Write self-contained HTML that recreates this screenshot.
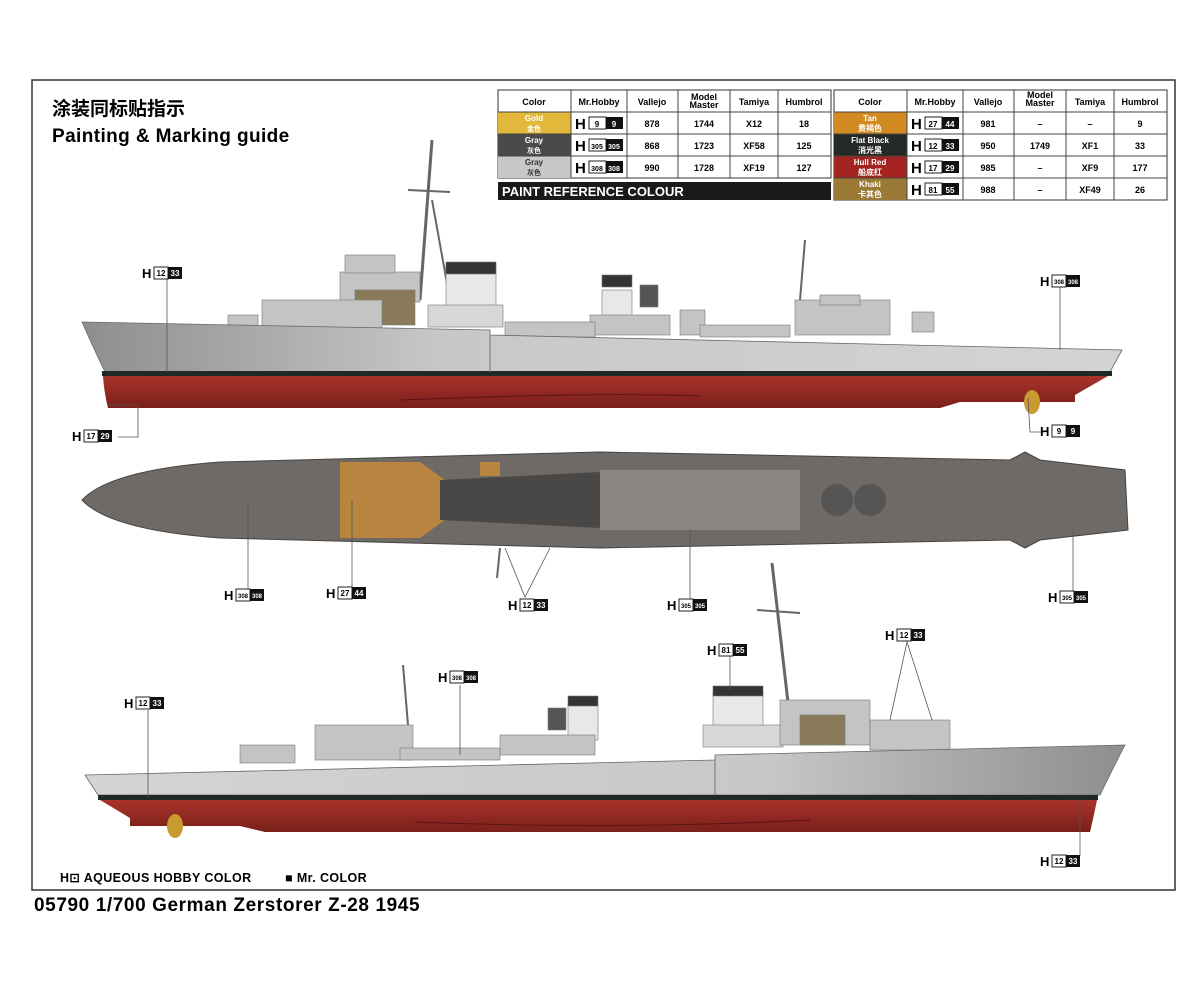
<!DOCTYPE html>
<html><head><meta charset="utf-8"><style>
body{margin:0;background:#fff;}
svg text{font-family:"Liberation Sans","Noto Sans CJK SC",sans-serif;}
</style></head><body>
<svg width="1200" height="982" viewBox="0 0 1200 982" xmlns="http://www.w3.org/2000/svg">
<defs>
<linearGradient id="hg" x1="0" y1="0" x2="1" y2="0"><stop offset="0" stop-color="#8e8e8e"/><stop offset="0.35" stop-color="#c8c8c8"/><stop offset="1" stop-color="#d4d4d4"/></linearGradient>
<linearGradient id="hg2" x1="1" y1="0" x2="0" y2="0"><stop offset="0" stop-color="#8e8e8e"/><stop offset="0.35" stop-color="#c8c8c8"/><stop offset="1" stop-color="#d4d4d4"/></linearGradient>
<linearGradient id="rd" x1="0" y1="0" x2="0" y2="1"><stop offset="0" stop-color="#a8332b"/><stop offset="1" stop-color="#7a1f1a"/></linearGradient>
</defs>
<rect x="32" y="80" width="1143" height="810" fill="none" stroke="#333" stroke-width="1.5"/>
<text x="52" y="115" font-size="19" font-weight="bold">涂装同标贴指示</text>
<text x="52" y="142" font-size="19" font-weight="bold" letter-spacing="0.4">Painting &amp; Marking guide</text>

<!-- table 1 -->
<g font-size="9" text-anchor="middle" font-weight="bold">
<rect x="498" y="90" width="333" height="88" fill="#fff" stroke="#333"/>
<rect x="498" y="112" width="73" height="22" fill="#e2b83a"/>
<rect x="498" y="134" width="73" height="22" fill="#4a4a48"/>
<rect x="498" y="156" width="73" height="22" fill="#c8c8c6"/>
<g stroke="#444" fill="none"><line x1="498" y1="112" x2="831" y2="112"/><line x1="498" y1="134" x2="831" y2="134"/><line x1="498" y1="156" x2="831" y2="156"/>
<line x1="571" y1="90" x2="571" y2="178"/><line x1="627" y1="90" x2="627" y2="178"/><line x1="678" y1="90" x2="678" y2="178"/><line x1="730" y1="90" x2="730" y2="178"/><line x1="778" y1="90" x2="778" y2="178"/></g>
<text x="534" y="105">Color</text><text x="599" y="105">Mr.Hobby</text><text x="652" y="105">Vallejo</text><text x="704" y="100">Model</text><text x="704" y="108">Master</text><text x="754" y="105">Tamiya</text><text x="804" y="105">Humbrol</text>
<text x="534" y="121" fill="#fff" font-size="8">Gold</text><text x="534" y="131" fill="#fff" font-size="7">金色</text>
<text x="534" y="143" fill="#fff" font-size="8">Gray</text><text x="534" y="153" fill="#fff" font-size="7">灰色</text>
<text x="534" y="165" fill="#333" font-size="8">Gray</text><text x="534" y="175" fill="#333" font-size="7">灰色</text>
<text x="652" y="127">878</text><text x="704" y="127">1744</text><text x="754" y="127">X12</text><text x="804" y="127">18</text>
<text x="652" y="149">868</text><text x="704" y="149">1723</text><text x="754" y="149">XF58</text><text x="804" y="149">125</text>
<text x="652" y="171">990</text><text x="704" y="171">1728</text><text x="754" y="171">XF19</text><text x="804" y="171">127</text>
<rect x="498" y="182" width="333" height="18" fill="#1a1a1a"/>
<text x="502" y="196" fill="#fff" font-size="13" text-anchor="start">PAINT  REFERENCE COLOUR</text>
</g>
<g font-weight="bold">
<text x="575" y="129" font-size="15">H</text><rect x="589" y="117" width="17" height="12" fill="#fff" stroke="#222"/><rect x="606" y="117" width="17" height="12" fill="#111"/><text x="597" y="127" font-size="8" text-anchor="middle">9</text><text x="614" y="127" font-size="8" fill="#fff" text-anchor="middle">9</text>
<text x="575" y="151" font-size="15">H</text><rect x="589" y="139" width="17" height="12" fill="#fff" stroke="#222"/><rect x="606" y="139" width="17" height="12" fill="#111"/><text x="597" y="149" font-size="7" text-anchor="middle">305</text><text x="614" y="149" font-size="7" fill="#fff" text-anchor="middle">305</text>
<text x="575" y="173" font-size="15">H</text><rect x="589" y="161" width="17" height="12" fill="#fff" stroke="#222"/><rect x="606" y="161" width="17" height="12" fill="#111"/><text x="597" y="171" font-size="7" text-anchor="middle">308</text><text x="614" y="171" font-size="7" fill="#fff" text-anchor="middle">308</text>
</g>

<!-- table 2 -->
<g font-size="9" text-anchor="middle" font-weight="bold">
<rect x="834" y="90" width="333" height="110" fill="#fff" stroke="#333"/>
<rect x="834" y="112" width="73" height="22" fill="#d28a22"/>
<rect x="834" y="134" width="73" height="22" fill="#262a26"/>
<rect x="834" y="156" width="73" height="22" fill="#a2231f"/>
<rect x="834" y="178" width="73" height="22" fill="#9a7a34"/>
<g stroke="#444" fill="none"><line x1="834" y1="112" x2="1167" y2="112"/><line x1="834" y1="134" x2="1167" y2="134"/><line x1="834" y1="156" x2="1167" y2="156"/><line x1="834" y1="178" x2="1167" y2="178"/>
<line x1="907" y1="90" x2="907" y2="200"/><line x1="963" y1="90" x2="963" y2="200"/><line x1="1014" y1="90" x2="1014" y2="200"/><line x1="1066" y1="90" x2="1066" y2="200"/><line x1="1114" y1="90" x2="1114" y2="200"/></g>
<text x="870" y="105">Color</text><text x="935" y="105">Mr.Hobby</text><text x="988" y="105">Vallejo</text><text x="1040" y="98">Model</text><text x="1040" y="106">Master</text><text x="1090" y="105">Tamiya</text><text x="1140" y="105">Humbrol</text>
<g fill="#fff" font-size="8"><text x="870" y="121">Tan</text><text x="870" y="131">黄褐色</text><text x="870" y="143">Flat Black</text><text x="870" y="153">消光黑</text><text x="870" y="165">Hull Red</text><text x="870" y="175">船底红</text><text x="870" y="187">Khaki</text><text x="870" y="197">卡其色</text></g>
<text x="988" y="127">981</text><text x="1040" y="127">–</text><text x="1090" y="127">–</text><text x="1140" y="127">9</text>
<text x="988" y="149">950</text><text x="1040" y="149">1749</text><text x="1090" y="149">XF1</text><text x="1140" y="149">33</text>
<text x="988" y="171">985</text><text x="1040" y="171">–</text><text x="1090" y="171">XF9</text><text x="1140" y="171">177</text>
<text x="988" y="193">988</text><text x="1040" y="193">–</text><text x="1090" y="193">XF49</text><text x="1140" y="193">26</text>
</g>
<g font-weight="bold" font-size="8" text-anchor="middle">
<text x="911" y="129" font-size="15" text-anchor="start">H</text><rect x="925" y="117" width="17" height="12" fill="#fff" stroke="#222"/><rect x="942" y="117" width="17" height="12" fill="#111"/><text x="933" y="127">27</text><text x="950" y="127" fill="#fff">44</text>
<text x="911" y="151" font-size="15" text-anchor="start">H</text><rect x="925" y="139" width="17" height="12" fill="#fff" stroke="#222"/><rect x="942" y="139" width="17" height="12" fill="#111"/><text x="933" y="149">12</text><text x="950" y="149" fill="#fff">33</text>
<text x="911" y="173" font-size="15" text-anchor="start">H</text><rect x="925" y="161" width="17" height="12" fill="#fff" stroke="#222"/><rect x="942" y="161" width="17" height="12" fill="#111"/><text x="933" y="171">17</text><text x="950" y="171" fill="#fff">29</text>
<text x="911" y="195" font-size="15" text-anchor="start">H</text><rect x="925" y="183" width="17" height="12" fill="#fff" stroke="#222"/><rect x="942" y="183" width="17" height="12" fill="#111"/><text x="933" y="193">81</text><text x="950" y="193" fill="#fff">55</text>
</g>

<!-- TOP SHIP -->
<g>
<g fill="#c4c4c4" stroke="#777" stroke-width="0.6">
<line x1="432" y1="140" x2="420" y2="300" stroke="#666" stroke-width="3"/>
<line x1="408" y1="190" x2="450" y2="192" stroke="#666" stroke-width="2"/>
<line x1="432" y1="200" x2="450" y2="300" stroke="#666" stroke-width="2"/>
<rect x="340" y="272" width="80" height="30"/><rect x="345" y="255" width="50" height="18"/>
<rect x="355" y="290" width="60" height="35" fill="#8a7a5a"/>
<rect x="262" y="300" width="120" height="30"/>
<rect x="228" y="315" width="30" height="15"/>
<rect x="446" y="265" width="50" height="50" fill="#e8e8e8"/><rect x="446" y="262" width="50" height="12" fill="#333"/>
<rect x="428" y="305" width="75" height="22" fill="#d8d8d8"/>
<rect x="602" y="290" width="30" height="40" fill="#e8e8e8"/><rect x="602" y="275" width="30" height="12" fill="#333"/>
<rect x="590" y="315" width="80" height="20"/><rect x="640" y="285" width="18" height="22" fill="#555"/>
<rect x="680" y="310" width="25" height="25"/>
<line x1="805" y1="240" x2="800" y2="300" stroke="#666" stroke-width="2"/>
<rect x="795" y="300" width="95" height="35"/><rect x="820" y="295" width="40" height="10"/>
<rect x="912" y="312" width="22" height="20"/>
<rect x="505" y="322" width="90" height="15"/><rect x="700" y="325" width="90" height="12"/>
</g>
<path d="M82,322 L490,330 L490,335 L1122,350 L1110,372 L105,372 Q92,345 82,322 Z" fill="url(#hg)" stroke="#666" stroke-width="0.8"/>
<rect x="102" y="371" width="1010" height="5" fill="#1f2a22"/>
<path d="M103,376 L1108,376 L1075,395 L1075,402 L960,402 L940,408 L108,408 Q104,392 103,376 Z" fill="url(#rd)"/>
<line x1="490" y1="330" x2="490" y2="372" stroke="#777"/>
<path d="M400,400 Q600,392 700,396" stroke="#5a1512" fill="none"/>
<ellipse cx="1032" cy="402" rx="8" ry="12" fill="#c89a30"/>
</g>

<!-- TOP VIEW -->
<path d="M82,500 Q110,470 220,462 L600,452 L1010,460 L1025,452 L1040,460 L1125,470 L1128,530 L1040,540 L1025,548 L1010,540 L600,548 L220,538 Q110,530 82,500 Z" fill="#6f6a66" stroke="#444"/>
<path d="M340,462 L420,462 L445,480 L445,520 L420,538 L340,538 Z" fill="#b88640"/>
<path d="M440,480 L600,472 L600,528 L440,520 Z" fill="#4a4846"/>
<rect x="600" y="470" width="200" height="60" fill="#8a8580"/>
<circle cx="837" cy="500" r="16" fill="#555"/><circle cx="870" cy="500" r="16" fill="#555"/>
<rect x="480" y="462" width="20" height="14" fill="#b88640"/>
<line x1="500" y1="548" x2="497" y2="578" stroke="#666" stroke-width="2"/>

<!-- BOTTOM SHIP -->
<g fill="#c4c4c4" stroke="#777" stroke-width="0.6">
<line x1="772" y1="563" x2="790" y2="720" stroke="#666" stroke-width="3"/>
<line x1="757" y1="610" x2="800" y2="613" stroke="#666" stroke-width="2"/>
<rect x="713" y="692" width="50" height="40" fill="#e8e8e8"/><rect x="713" y="686" width="50" height="10" fill="#333"/>
<rect x="703" y="725" width="80" height="22" fill="#d8d8d8"/>
<rect x="780" y="700" width="90" height="45"/><rect x="800" y="715" width="45" height="30" fill="#8a7a5a"/>
<rect x="870" y="720" width="80" height="30"/>
<rect x="568" y="705" width="30" height="35" fill="#e8e8e8"/><rect x="568" y="696" width="30" height="10" fill="#333"/>
<rect x="500" y="735" width="95" height="20"/><rect x="548" y="708" width="18" height="22" fill="#555"/>
<line x1="403" y1="665" x2="408" y2="725" stroke="#666" stroke-width="2"/>
<rect x="315" y="725" width="98" height="35"/><rect x="240" y="745" width="55" height="18"/>
<rect x="400" y="748" width="100" height="12"/>
</g>
<path d="M1125,745 L715,755 L715,760 L85,775 L98,795 L1100,795 Q1112,770 1125,745 Z" fill="url(#hg2)" stroke="#666" stroke-width="0.8"/>
<rect x="98" y="795" width="1000" height="5" fill="#1f2a22"/>
<path d="M100,800 L1097,800 Q1094,815 1090,832 L265,832 L240,826 L130,826 L130,818 Z" fill="url(#rd)"/>
<line x1="715" y1="757" x2="715" y2="795" stroke="#777"/>
<path d="M415,822 Q610,830 810,820" stroke="#5a1512" fill="none"/>
<ellipse cx="175" cy="826" rx="8" ry="12" fill="#c89a30"/>

<!-- callouts -->
<g stroke="#555" fill="none" stroke-width="0.8">
<line x1="167" y1="278" x2="167" y2="372"/>
<polyline points="108,405 138,405 138,437 118,437"/>
<line x1="1060" y1="287" x2="1060" y2="350"/>
<polyline points="1028,398 1030,432 1045,432"/>
<line x1="248" y1="500" x2="248" y2="592"/>
<line x1="352" y1="500" x2="352" y2="590"/>
<polyline points="505,548 525,597 550,548"/>
<line x1="690" y1="530" x2="690" y2="600"/>
<line x1="1073" y1="530" x2="1073" y2="592"/>
<line x1="148" y1="710" x2="148" y2="798"/>
<line x1="460" y1="685" x2="460" y2="755"/>
<line x1="730" y1="655" x2="730" y2="690"/>
<polyline points="890,720 907,642 932,720"/>
<line x1="1080" y1="800" x2="1080" y2="856"/>
</g>
<g font-weight="bold" font-size="8" text-anchor="middle">
<g transform="translate(142,266)"><text x="0" y="12" font-size="13" text-anchor="start">H</text><rect x="12" y="1" width="14" height="12" fill="#fff" stroke="#222"/><rect x="26" y="1" width="14" height="12" fill="#111"/><text x="19" y="10">12</text><text x="33" y="10" fill="#fff">33</text></g>
<g transform="translate(72,429)"><text x="0" y="12" font-size="13" text-anchor="start">H</text><rect x="12" y="1" width="14" height="12" fill="#fff" stroke="#222"/><rect x="26" y="1" width="14" height="12" fill="#111"/><text x="19" y="10">17</text><text x="33" y="10" fill="#fff">29</text></g>
<g transform="translate(1040,274)"><text x="0" y="12" font-size="13" text-anchor="start">H</text><rect x="12" y="1" width="14" height="12" fill="#fff" stroke="#222"/><rect x="26" y="1" width="14" height="12" fill="#111"/><text x="19" y="10" font-size="6">308</text><text x="33" y="10" fill="#fff" font-size="6">308</text></g>
<g transform="translate(1040,424)"><text x="0" y="12" font-size="13" text-anchor="start">H</text><rect x="12" y="1" width="14" height="12" fill="#fff" stroke="#222"/><rect x="26" y="1" width="14" height="12" fill="#111"/><text x="19" y="10">9</text><text x="33" y="10" fill="#fff">9</text></g>
<g transform="translate(224,588)"><text x="0" y="12" font-size="13" text-anchor="start">H</text><rect x="12" y="1" width="14" height="12" fill="#fff" stroke="#222"/><rect x="26" y="1" width="14" height="12" fill="#111"/><text x="19" y="10" font-size="6">308</text><text x="33" y="10" fill="#fff" font-size="6">308</text></g>
<g transform="translate(326,586)"><text x="0" y="12" font-size="13" text-anchor="start">H</text><rect x="12" y="1" width="14" height="12" fill="#fff" stroke="#222"/><rect x="26" y="1" width="14" height="12" fill="#111"/><text x="19" y="10">27</text><text x="33" y="10" fill="#fff">44</text></g>
<g transform="translate(508,598)"><text x="0" y="12" font-size="13" text-anchor="start">H</text><rect x="12" y="1" width="14" height="12" fill="#fff" stroke="#222"/><rect x="26" y="1" width="14" height="12" fill="#111"/><text x="19" y="10">12</text><text x="33" y="10" fill="#fff">33</text></g>
<g transform="translate(667,598)"><text x="0" y="12" font-size="13" text-anchor="start">H</text><rect x="12" y="1" width="14" height="12" fill="#fff" stroke="#222"/><rect x="26" y="1" width="14" height="12" fill="#111"/><text x="19" y="10" font-size="6">305</text><text x="33" y="10" fill="#fff" font-size="6">305</text></g>
<g transform="translate(1048,590)"><text x="0" y="12" font-size="13" text-anchor="start">H</text><rect x="12" y="1" width="14" height="12" fill="#fff" stroke="#222"/><rect x="26" y="1" width="14" height="12" fill="#111"/><text x="19" y="10" font-size="6">305</text><text x="33" y="10" fill="#fff" font-size="6">305</text></g>
<g transform="translate(124,696)"><text x="0" y="12" font-size="13" text-anchor="start">H</text><rect x="12" y="1" width="14" height="12" fill="#fff" stroke="#222"/><rect x="26" y="1" width="14" height="12" fill="#111"/><text x="19" y="10">12</text><text x="33" y="10" fill="#fff">33</text></g>
<g transform="translate(438,670)"><text x="0" y="12" font-size="13" text-anchor="start">H</text><rect x="12" y="1" width="14" height="12" fill="#fff" stroke="#222"/><rect x="26" y="1" width="14" height="12" fill="#111"/><text x="19" y="10" font-size="6">308</text><text x="33" y="10" fill="#fff" font-size="6">308</text></g>
<g transform="translate(707,643)"><text x="0" y="12" font-size="13" text-anchor="start">H</text><rect x="12" y="1" width="14" height="12" fill="#fff" stroke="#222"/><rect x="26" y="1" width="14" height="12" fill="#111"/><text x="19" y="10">81</text><text x="33" y="10" fill="#fff">55</text></g>
<g transform="translate(885,628)"><text x="0" y="12" font-size="13" text-anchor="start">H</text><rect x="12" y="1" width="14" height="12" fill="#fff" stroke="#222"/><rect x="26" y="1" width="14" height="12" fill="#111"/><text x="19" y="10">12</text><text x="33" y="10" fill="#fff">33</text></g>
<g transform="translate(1040,854)"><text x="0" y="12" font-size="13" text-anchor="start">H</text><rect x="12" y="1" width="14" height="12" fill="#fff" stroke="#222"/><rect x="26" y="1" width="14" height="12" fill="#111"/><text x="19" y="10">12</text><text x="33" y="10" fill="#fff">33</text></g>
</g>

<text x="60" y="882" font-size="12.5" font-weight="bold" letter-spacing="0.4">H⊡ AQUEOUS HOBBY COLOR</text>
<text x="285" y="882" font-size="12.5" font-weight="bold" letter-spacing="0.4">■ Mr. COLOR</text>
<text x="34" y="911" font-size="19" font-weight="bold" letter-spacing="0.6">05790 1/700  German Zerstorer Z-28 1945</text>
</svg>
</body></html>
